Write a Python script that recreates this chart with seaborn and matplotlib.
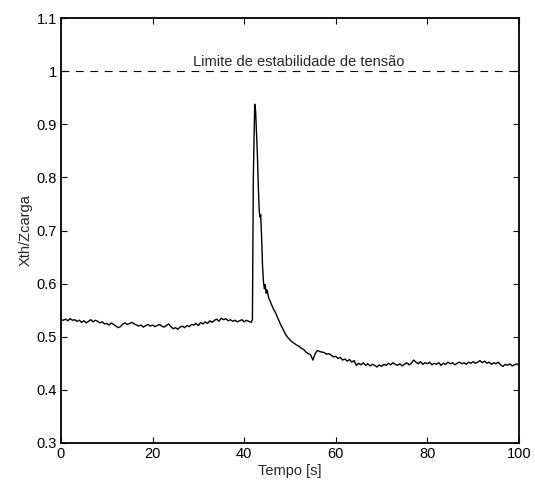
import numpy as np
import pandas as pd
import matplotlib
matplotlib.use("Agg")
import matplotlib.pyplot as plt
import seaborn as sns

# --- data ---
# pre-disturbance segment, 0 .. 41.5 s every 0.5 s
t_pre = np.arange(0, 41.6, 0.5)
v_pre = [
    0.532, 0.531, 0.533, 0.530, 0.534, 0.531, 0.532, 0.529, 0.531, 0.527,
    0.530, 0.526, 0.529, 0.532, 0.528, 0.531, 0.529, 0.526, 0.528, 0.524,
    0.525, 0.522, 0.526, 0.523, 0.520, 0.517, 0.519, 0.524, 0.526, 0.523,
    0.525, 0.527, 0.524, 0.522, 0.520, 0.522, 0.518, 0.521, 0.523, 0.520,
    0.522, 0.519, 0.521, 0.523, 0.520, 0.518, 0.521, 0.524, 0.519, 0.515,
    0.517, 0.514, 0.518, 0.520, 0.517, 0.521, 0.519, 0.523, 0.522, 0.525,
    0.521, 0.527, 0.524, 0.528, 0.525, 0.530, 0.527, 0.531, 0.533, 0.529,
    0.535, 0.532, 0.534, 0.530, 0.532, 0.529, 0.531, 0.528, 0.530, 0.532,
    0.528, 0.531, 0.529, 0.527,
]

# spike and decay
t_spike = [41.8, 42.0, 42.3, 42.5, 42.7, 42.9, 43.1, 43.3, 43.5, 43.6, 43.8,
           44.0, 44.2, 44.4, 44.6, 44.8, 45.0, 45.3, 45.6, 46.0, 46.4, 46.8,
           47.2, 47.6, 48.0, 48.5, 49.0, 49.5]
v_spike = [0.532, 0.800, 0.938, 0.925, 0.880, 0.840, 0.780, 0.735, 0.725, 0.730,
           0.690, 0.635, 0.605, 0.590, 0.598, 0.582, 0.588, 0.575, 0.568, 0.560,
           0.552, 0.546, 0.538, 0.530, 0.522, 0.514, 0.505, 0.499]

# post-disturbance segment, 50 .. 100 s every 0.5 s
t_post = np.arange(50, 100.1, 0.5)
v_post = [
    0.494, 0.490, 0.487, 0.484, 0.482, 0.478, 0.476, 0.471, 0.468, 0.466,
    0.456, 0.468, 0.474, 0.472, 0.471, 0.470, 0.467, 0.468, 0.465, 0.462,
    0.463, 0.459, 0.461, 0.456, 0.458, 0.454, 0.457, 0.452, 0.455, 0.446,
    0.450, 0.447, 0.451, 0.446, 0.449, 0.445, 0.448, 0.446, 0.443, 0.447,
    0.444, 0.448, 0.446, 0.450, 0.447, 0.451, 0.448, 0.446, 0.449, 0.445,
    0.448, 0.451, 0.447, 0.450, 0.456, 0.452, 0.449, 0.453, 0.448, 0.451,
    0.449, 0.452, 0.447, 0.450, 0.448, 0.451, 0.446, 0.450, 0.448, 0.452,
    0.449, 0.451, 0.447, 0.450, 0.452, 0.449, 0.451, 0.448, 0.452, 0.450,
    0.453, 0.450, 0.452, 0.455, 0.451, 0.454, 0.450, 0.452, 0.448, 0.451,
    0.449, 0.452, 0.447, 0.444, 0.448, 0.446, 0.449, 0.445, 0.447, 0.449,
    0.446,
]

limit_value = 1.0
limit_label = "Limite de estabilidade de tensão"

df = pd.DataFrame({
    "t": np.concatenate([t_pre, t_spike, t_post]),
    "v": np.concatenate([v_pre, v_spike, v_post]),
})

# --- style ---
sns.set_style("ticks")
plt.rcParams["font.family"] = ["Liberation Sans Narrow", "Liberation Sans", "DejaVu Sans"]
plt.rcParams["font.size"] = 10.5

fig = plt.figure(figsize=(5.35, 4.91), dpi=100)
ax = fig.add_axes([0.114, 0.098, 0.856, 0.865])

sns.lineplot(data=df, x="t", y="v", color="black", linewidth=1.0,
             sort=False, estimator=None, ax=ax)
ax.axhline(limit_value, color="black", linewidth=0.8, dashes=(7, 6))
ax.text(52, 1.004, limit_label, ha="center", va="bottom", fontsize=10.5)

ax.set_xlim(0, 100)
ax.set_ylim(0.3, 1.1)
ax.set_xticks([0, 20, 40, 60, 80, 100])
ax.set_yticks([0.3, 0.4, 0.5, 0.6, 0.7, 0.8, 0.9, 1.0, 1.1])
ax.set_yticklabels(["0.3", "0.4", "0.5", "0.6", "0.7", "0.8", "0.9", "1", "1.1"])
ax.tick_params(direction="in", length=4, width=0.8, top=True, right=True,
               labelsize=10.5, colors="black", pad=3)
for s in ax.spines.values():
    s.set_visible(True)
    s.set_linewidth(1.3)
    s.set_color("black")

ax.set_xlabel("Tempo [s]", fontsize=10.5, labelpad=2)
ax.set_ylabel("Xth/Zcarga", fontsize=10.5, labelpad=3)

plt.savefig("out.png", dpi=100)
